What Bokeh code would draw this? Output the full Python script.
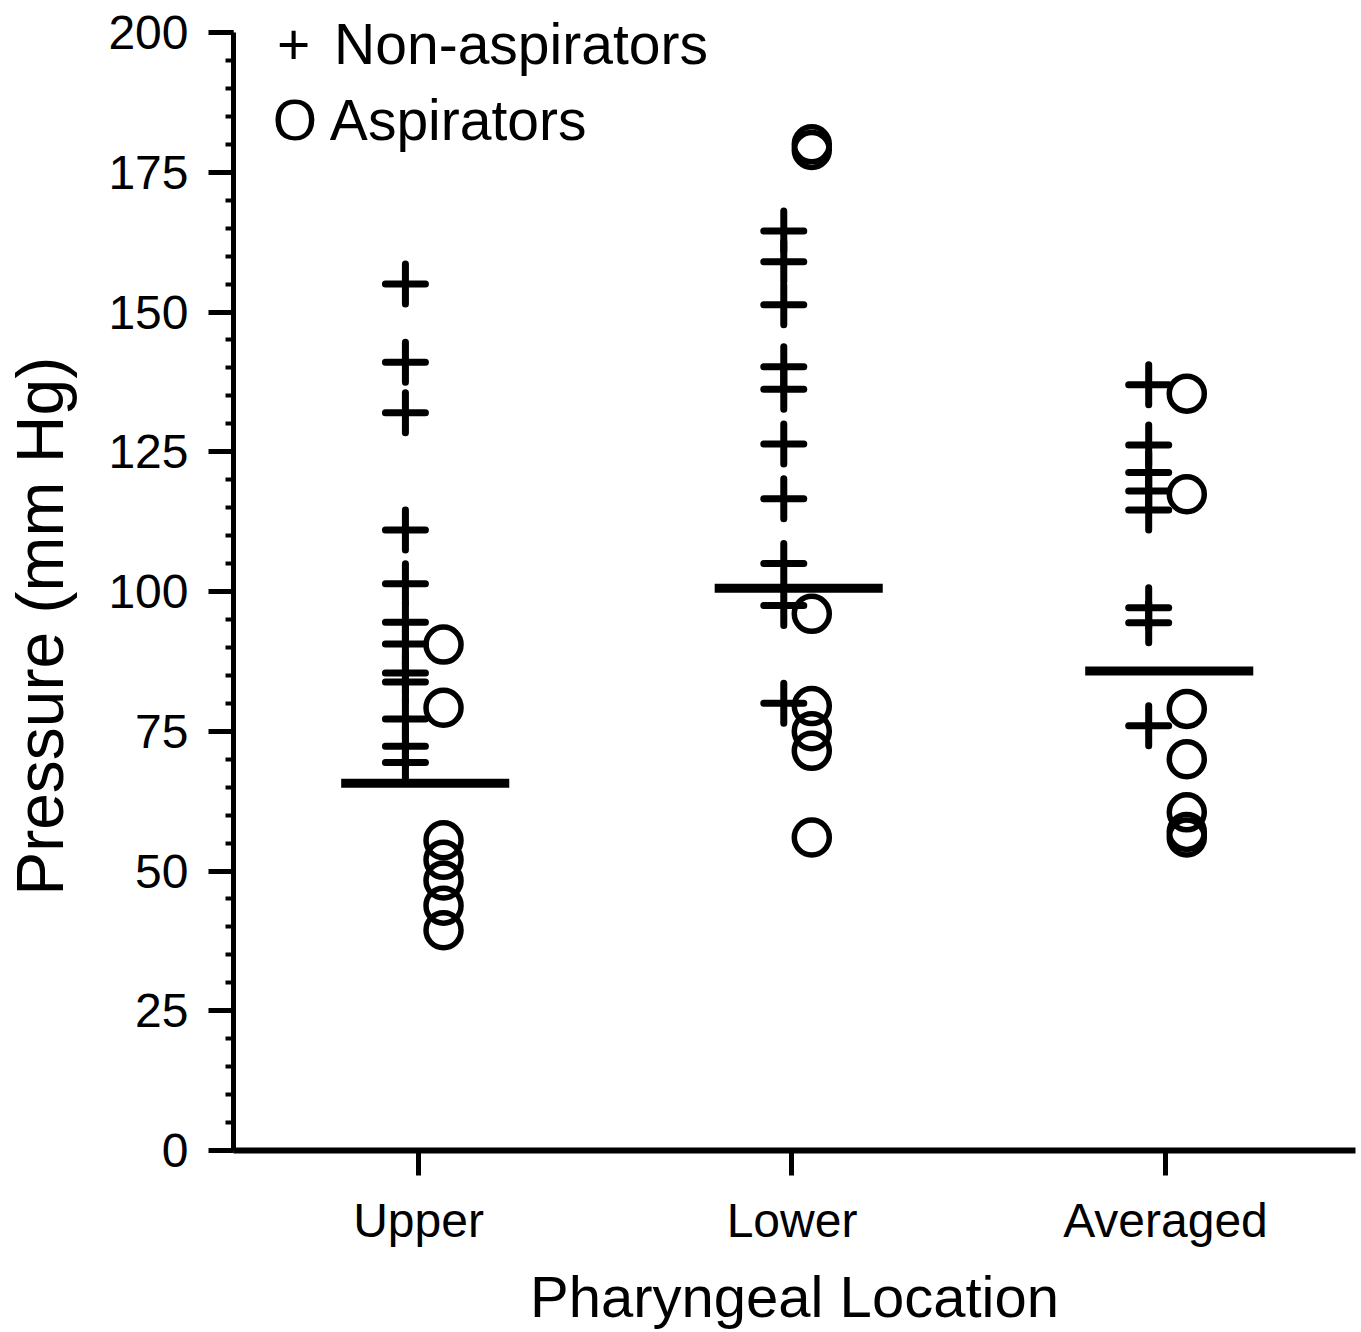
from bokeh.plotting import figure
from bokeh.models import Range1d, FixedTicker, Label
from bokeh.embed import file_html
from bokeh.resources import INLINE

# ---------------- data ----------------
categories = ["Upper", "Lower", "Averaged"]

non_aspirators_upper = [155, 141, 132, 111, 101.4, 94.5, 90.6, 85.4, 83.8, 77.2, 72.3, 69.4]
non_aspirators_lower = [164.5, 159, 151.3, 140.2, 136.2, 126.4, 116.6, 105, 97.5, 80]
non_aspirators_avg = [137, 126.2, 121.3, 118, 114.6, 97.1, 94.4, 76]

aspirators_upper = [90.5, 79.2, 55.5, 52, 48.3, 43.8, 39.4]
aspirators_lower = [180, 179, 96, 79.5, 75, 71.5, 56]
aspirators_avg = [135.4, 117.4, 79, 70, 60.5, 57, 56]

means = [65.7, 100.6, 85.8]

y_ticks = [0, 25, 50, 75, 100, 125, 150, 175, 200]
y_minor_ticks = [v for v in range(0, 201, 5)]

# ---------------- layout constants ----------------
FONT = "Liberation Sans"
cross_offset = [-0.035, -0.022, -0.045]
circle_offset = [0.067, 0.053, 0.057]
mean_center_offset = [0.018, 0.018, 0.01]
mean_half = 0.225

non_groups = [non_aspirators_upper, non_aspirators_lower, non_aspirators_avg]
asp_groups = [aspirators_upper, aspirators_lower, aspirators_avg]

nx, ny, ax_, ay = [], [], [], []
for i, (ng, ag) in enumerate(zip(non_groups, asp_groups)):
    pos = i + 1
    nx += [pos + cross_offset[i]] * len(ng)
    ny += list(ng)
    ax_ += [pos + circle_offset[i]] * len(ag)
    ay += list(ag)

mx0 = [i + 1 + mean_center_offset[i] - mean_half for i in range(3)]
mx1 = [i + 1 + mean_center_offset[i] + mean_half for i in range(3)]

# frame runs a little above 200 so the legend text is not cut; the axis stops at 200
p = figure(
    width=1360, height=1332,
    x_range=Range1d(0.5047, 3.5087), y_range=Range1d(0, 203.94),
    output_backend="svg", toolbar_location=None,
    min_border_left=233, min_border_right=5, min_border_top=10, min_border_bottom=182,
)
p.outline_line_color = None
p.xgrid.grid_line_color = None
p.ygrid.grid_line_color = None
p.background_fill_color = "white"
p.border_fill_color = "white"

p.scatter(nx, ny, marker="cross", size=40, line_width=7, line_color="black",
          line_cap="round")
p.scatter(ax_, ay, marker="circle", size=35, line_width=5.5, line_color="black",
          fill_color=None)
p.segment(x0=mx0, y0=means, x1=mx1, y1=means, line_width=9, line_color="black")

# y axis
yax = p.yaxis[0]
yax.bounds = (0, 200)
yax.ticker = FixedTicker(ticks=y_ticks, minor_ticks=y_minor_ticks)
yax.axis_line_width = 5
yax.major_tick_line_width = 5
yax.major_tick_out = 25
yax.major_tick_in = 0
yax.minor_tick_line_width = 4
yax.minor_tick_out = 8
yax.minor_tick_in = 0
yax.major_label_text_font = FONT
yax.major_label_text_font_size = "48px"
yax.major_label_text_color = "black"
yax.major_label_standoff = 20
yax.axis_label = "Pressure (mm Hg)\u00a0\u00a0\u00a0\u00a0\u00a0"
yax.axis_label_text_font = FONT
yax.axis_label_text_font_size = "66px"
yax.axis_label_text_font_style = "normal"
yax.axis_label_text_color = "black"
yax.axis_label_standoff = 28

# x axis
xax = p.xaxis[0]
xax.ticker = FixedTicker(ticks=[1, 2, 3], minor_ticks=[])
xax.major_label_overrides = {1: categories[0], 2: categories[1], 3: categories[2]}
xax.axis_line_width = 6
xax.major_tick_line_width = 5
xax.major_tick_out = 25
xax.major_tick_in = 0
xax.minor_tick_line_color = None
xax.major_label_text_font = FONT
xax.major_label_text_font_size = "48px"
xax.major_label_text_color = "black"
xax.major_label_standoff = 18
xax.axis_label = "Pharyngeal Location"
xax.axis_label_text_font = FONT
xax.axis_label_text_font_size = "58px"
xax.axis_label_text_font_style = "normal"
xax.axis_label_text_color = "black"
xax.axis_label_standoff = 14

# legend as text
for txt, x, y in [("+", 0.621, 198.0), ("Non-aspirators", 0.774, 198.0),
                  ("O Aspirators", 0.610, 184.3)]:
    p.add_layout(Label(x=x, y=y, text=txt, text_font=FONT, text_font_size="57px",
                       text_color="black", text_baseline="alphabetic", text_align="left"))

open("out.html", "w").write(file_html(p, INLINE))
